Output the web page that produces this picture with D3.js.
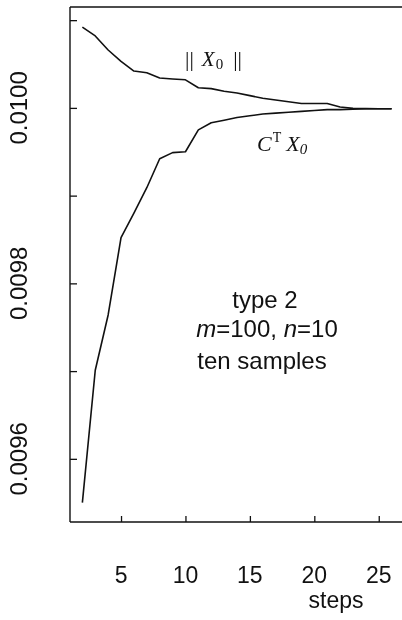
<!DOCTYPE html>
<html>
<head>
<meta charset="utf-8">
<script src="https://cdn.jsdelivr.net/npm/d3@7/dist/d3.min.js"></script>
<style>
  html, body { margin: 0; padding: 0; background: #fff; }
  svg { display: block; filter: grayscale(100%); }
  .sans { font-family: "Liberation Sans", Arial, Helvetica, sans-serif; fill: #111; }
  .serif { font-family: "Liberation Serif", "Times New Roman", serif; fill: #111; }
</style>
</head>
<body>
<svg id="chart" width="402" height="620"></svg>
<script>
const steps = [2, 3, 4, 5, 6, 7, 8, 9, 10, 11, 12, 13, 14, 15, 16, 17, 18, 19, 20, 21, 22, 23, 24, 25, 26];
const normX0 = [0.010092, 0.010082, 0.010066, 0.010053, 0.010042, 0.010040, 0.010034, 0.010033, 0.010032,
                0.010023, 0.010022, 0.010019, 0.010017, 0.010014, 0.010011, 0.010009, 0.010007, 0.010005,
                0.010005, 0.010005, 0.010001, 0.0099995, 0.0099992, 0.0099990, 0.0099990];
const ctX0 = [0.009550, 0.009701, 0.009764, 0.009852, 0.009880, 0.009909, 0.009942, 0.009949, 0.009950,
              0.009975, 0.009983, 0.009986, 0.009989, 0.009991, 0.009993, 0.009994, 0.009995, 0.009996,
              0.009997, 0.009998, 0.009998, 0.0099985, 0.009999, 0.009999, 0.009999];
const xTicks = [5, 10, 15, 20, 25];
const xTickLabels = ["5", "10", "15", "20", "25"];
const yTicks = [0.0096, 0.0097, 0.0098, 0.0099, 0.0100, 0.0101];
const yTickLabels = ["0.0096", "", "0.0098", "", "0.0100", ""];
const xLabel = "steps";
const noteLines = ["type 2", "m=100, n=10", "ten samples"];

const svg = d3.select("#chart");
const pLeft = 70, pRight = 404, pTop = 7, pBottom = 522;

const x = d3.scaleLinear().domain([1.04, 26.96]).range([pLeft, pRight]);
const y = d3.scaleLinear().domain([0.009528, 0.010115]).range([pBottom, pTop]);

// frame lines
const frame = svg.append("g").attr("stroke", "#111").attr("stroke-width", 1.4).attr("fill", "none");
frame.append("line").attr("x1", pLeft).attr("x2", pLeft).attr("y1", pTop).attr("y2", pBottom);
frame.append("line").attr("x1", pLeft).attr("x2", 402).attr("y1", pBottom).attr("y2", pBottom);
frame.append("line").attr("x1", pLeft).attr("x2", 402).attr("y1", pTop).attr("y2", pTop);

// y axis (inward ticks)
const yAxis = d3.axisRight(y).tickValues(yTicks).tickSize(7).tickFormat("");
const gy = svg.append("g").attr("transform", `translate(${pLeft},0)`).call(yAxis);
gy.select(".domain").remove();
gy.selectAll(".tick line").attr("stroke", "#111").attr("stroke-width", 1.3);

yTicks.forEach((t, i) => {
  if (!yTickLabels[i]) return;
  svg.append("text").attr("class", "sans")
    .attr("transform", `translate(27,${y(t)}) rotate(-90)`)
    .attr("text-anchor", "middle")
    .attr("font-size", 24)
    .text(yTickLabels[i]);
});

// x axis (inward ticks)
const xAxis = d3.axisTop(x).tickValues(xTicks).tickSize(6).tickFormat("");
const gx = svg.append("g").attr("transform", `translate(0,${pBottom})`).call(xAxis);
gx.select(".domain").remove();
gx.selectAll(".tick line").attr("stroke", "#111").attr("stroke-width", 1.3);

xTicks.forEach((t, i) => {
  svg.append("text").attr("class", "sans")
    .attr("x", x(t)).attr("y", 583)
    .attr("text-anchor", "middle")
    .attr("font-size", 23)
    .text(xTickLabels[i]);
});
svg.append("text").attr("class", "sans")
  .attr("x", 336).attr("y", 608)
  .attr("text-anchor", "middle")
  .attr("font-size", 23)
  .text(xLabel);

// curves
const line = d3.line().x(d => x(d[0])).y(d => y(d[1]));
svg.append("path")
  .datum(steps.map((s, i) => [s, normX0[i]]))
  .attr("d", line).attr("fill", "none").attr("stroke", "#111").attr("stroke-width", 1.6)
  .attr("stroke-linejoin", "round");
svg.append("path")
  .datum(steps.map((s, i) => [s, ctX0[i]]))
  .attr("d", line).attr("fill", "none").attr("stroke", "#111").attr("stroke-width", 1.6)
  .attr("stroke-linejoin", "round");

// curve labels
const l1 = svg.append("text").attr("class", "serif").attr("x", 185).attr("y", 66).attr("font-size", 22);
l1.append("tspan").text("||");
l1.append("tspan").attr("font-style", "italic").attr("dx", 8).attr("font-size", 21).text("X");
l1.append("tspan").attr("font-size", 15).attr("dy", 3).attr("dx", 1).text("0");
l1.append("tspan").attr("dy", -3).attr("dx", 10).text("||");

const l2 = svg.append("text").attr("class", "serif").attr("x", 257).attr("y", 151).attr("font-size", 22);
l2.append("tspan").attr("font-style", "italic").text("C");
l2.append("tspan").attr("font-size", 14).attr("dy", -9).attr("dx", 1).text("T");
l2.append("tspan").attr("font-style", "italic").attr("dy", 9).attr("dx", 5).text("X");
l2.append("tspan").attr("font-style", "italic").attr("font-size", 15).attr("dy", 3).text("0");

// annotation
const cx = 265;
svg.append("text").attr("class", "sans").attr("x", cx).attr("y", 308)
  .attr("text-anchor", "middle").attr("font-size", 24).text(noteLines[0]);
const t2 = svg.append("text").attr("class", "sans").attr("x", cx + 2).attr("y", 337)
  .attr("text-anchor", "middle").attr("font-size", 24);
t2.append("tspan").attr("font-style", "italic").text("m");
t2.append("tspan").text("=100, ");
t2.append("tspan").attr("font-style", "italic").text("n");
t2.append("tspan").text("=10");
svg.append("text").attr("class", "sans").attr("x", cx - 3).attr("y", 369)
  .attr("text-anchor", "middle").attr("font-size", 24).text(noteLines[2]);
</script>
</body>
</html>
